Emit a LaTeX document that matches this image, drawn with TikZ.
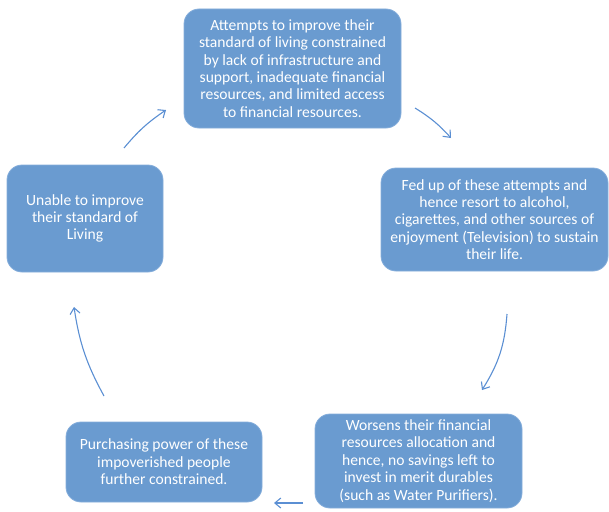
\documentclass[tikz,border=0pt]{standalone}
\usepackage{fontspec}
\setmainfont{Carlito}
\usetikzlibrary{arrows.meta}
\definecolor{boxblue}{HTML}{6A9BD0}
\definecolor{boxrim}{HTML}{86AEDB}
\definecolor{arrowblue}{HTML}{5B8FD3}
\begin{document}
\begin{tikzpicture}[x=1pt,y=-1pt,
  box/.style={fill=boxblue,draw=boxrim,line width=0.8pt,rounded corners=15pt,
    text=white,align=center,inner sep=0pt,
    font=\fontsize{15.6}{17.4}\selectfont},
  cyc/.style={draw=arrowblue,line width=1.1pt,
    -{Straight Barb[length=6pt,width=10pt,line width=1.1pt]}}]
\useasboundingbox (0,0) rectangle (609,511);
\node[box,minimum width=217pt,minimum height=119pt] (top) at (292.5,68.5)
  {Attempts to improve their\\standard of living constrained\\by lack of infrastructure and\\support, inadequate financial\\resources, and limited access\\to financial resources.};
\node[box,minimum width=227pt,minimum height=103pt] (right) at (494.5,219.5)
  {Fed up of these attempts and\\hence resort to alcohol,\\cigarettes, and other sources of\\enjoyment (Television) to sustain\\their life.};
\node[box,minimum width=156pt,minimum height=107pt] (left) at (85,218.5)
  {Unable to improve\\their standard of\\Living};
\node[box,minimum width=196pt,minimum height=80pt] (bl) at (164,462)
  {Purchasing power of these\\impoverished people\\further constrained.};
\node[box,minimum width=207pt,minimum height=94pt] (br) at (418.5,461)
  {Worsens their financial\\resources allocation and\\hence, no savings left to\\invest in merit durables\\(such as Water Purifiers).};
\coordinate (a1s) at (124,148); \coordinate (a1e) at (166,110);
\coordinate (a2s) at (415,108); \coordinate (a2e) at (451,138);
\coordinate (a3s) at (507,314); \coordinate (a3e) at (482,390);
\coordinate (a4s) at (303,503); \coordinate (a4e) at (274,503);
\coordinate (a5s) at (104,396); \coordinate (a5e) at (74,307);
\draw[cyc] (a1s) to[bend left=8] (a1e);
\draw[cyc] (a2s) to[bend left=8] (a2e);
\draw[cyc] (a3s) to[bend left=14] (a3e);
\draw[cyc] (a4s) -- (a4e);
\draw[cyc] (a5s) to[bend left=10] (a5e);
\end{tikzpicture}
\end{document}
